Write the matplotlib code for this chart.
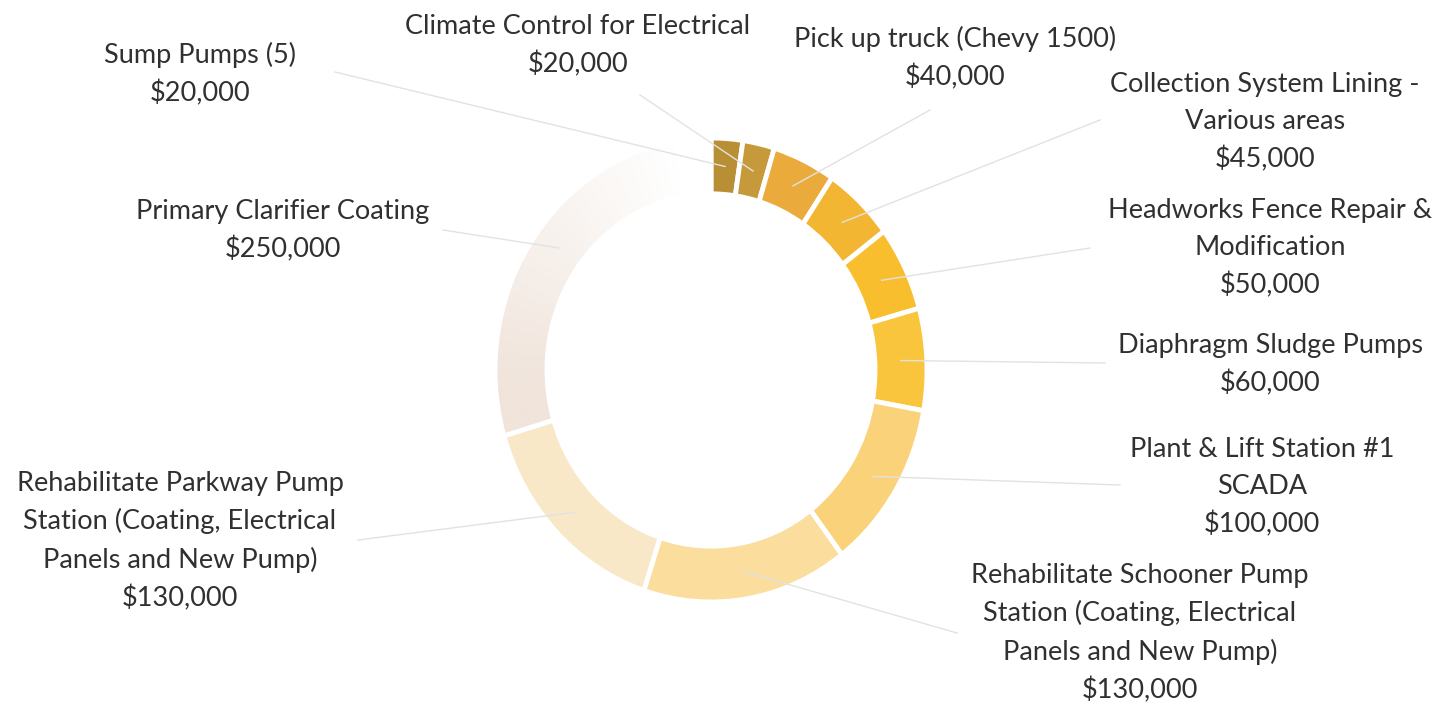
import numpy as np
import matplotlib.pyplot as plt
from matplotlib.colors import to_rgb

# capital projects and their budgets, clockwise from 12 o'clock
projects = [
    "Sump Pumps (5)",
    "Climate Control for Electrical",
    "Pick up truck (Chevy 1500)",
    "Collection System Lining -\nVarious areas",
    "Headworks Fence Repair &\nModification",
    "Diaphragm Sludge Pumps",
    "Plant & Lift Station #1\nSCADA",
    "Rehabilitate Schooner Pump\nStation (Coating, Electrical\nPanels and New Pump)",
    "Rehabilitate Parkway Pump\nStation (Coating, Electrical\nPanels and New Pump)",
    "Primary Clarifier Coating",
]
costs = [20000, 20000, 40000, 45000, 50000, 60000, 100000, 130000, 130000, 250000]

colors = ["#B88F35", "#C69A3A", "#EBAA3C", "#F2B633", "#F8BE2E",
          "#F9C53D", "#F9D27A", "#FBDD9E", "#F9E8C8", "#F0E4DB"]

# label block centre (x, y) and leader start, in pixels from top-left
label_xy = [(200, 74), (578, 46), (955, 58), (1265, 122), (1270, 248),
            (1270, 365), (1262, 487), (1140, 633), (180, 541), (283, 231)]
leader_xy = [(335, 72), (640, 95), (930, 110), (1100, 120), (1090, 248),
             (1105, 363), (1120, 485), (957, 633), (358, 540), (443, 230)]

W, H = 1456, 711
ysq = 216 / 232      # ring is a little taller than wide


def py(y):
    return (H - y) * ysq


fig = plt.figure(figsize=(W / 100, H / 100), dpi=100)
ax = fig.add_axes([0, 0, 1, 1])

cx, cy = 711, py(370)
R, ring = 216, 52
wedges, _ = ax.pie(costs, colors=colors, startangle=90, counterclock=False,
                   radius=R, center=(cx, cy), frame=True,
                   wedgeprops=dict(width=ring, edgecolor="white", linewidth=3.5))

# biggest slice fades out to white towards the top
big = wedges[-1]
gx, gy = np.meshgrid(np.linspace(cx - R, cx + R, 400), np.linspace(cy - R, cy + R, 400))
ang = np.degrees(np.arctan2(gy - cy, gx - cx)) % 360
mix = np.clip((ang - 100) / 85, 0, 1)[..., None]
grad = (1 - mix) * np.ones(3) + mix * np.array(to_rgb(colors[-1]))
big.set_facecolor("none")
big.set_zorder(2)
im = ax.imshow(grad, extent=[cx - R, cx + R, cy - R, cy + R], origin="lower",
               aspect="auto", zorder=1)
im.set_clip_path(big)

for w, name, v, (tx, ty), (lx, ly) in zip(wedges, projects, costs, label_xy, leader_xy):
    a = np.deg2rad((w.theta1 + w.theta2) / 2)
    rm = R - ring / 2
    ex, ey = cx + rm * np.cos(a), cy + rm * np.sin(a)
    ax.plot([lx, ex], [py(ly), ey], color="#E2E2E2", lw=1, zorder=3)
    ax.text(tx, py(ty), name + "\n" + f"\\${v:,}", ha="center", va="center",
            fontsize=19.5, family="Lato", color="#303030", linespacing=1.58)

ax.set_xlim(0, W)
ax.set_ylim(0, H * ysq)
ax.set_aspect("auto")
ax.axis("off")

fig.savefig("out.png", dpi=100, facecolor="white")
